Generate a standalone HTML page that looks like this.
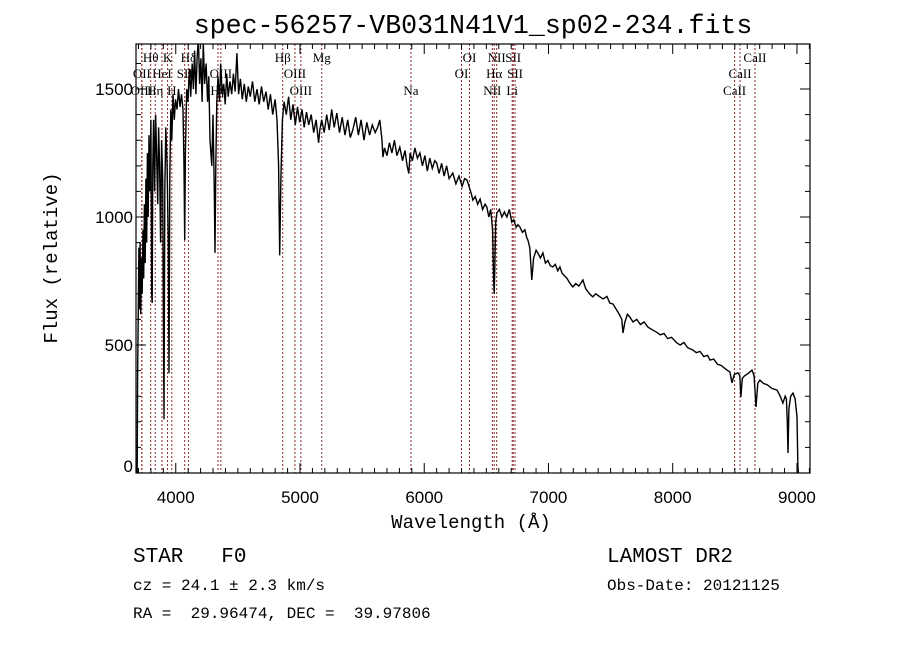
<!DOCTYPE html>
<html><head><meta charset="utf-8"><style>
html,body{margin:0;padding:0;background:#fff;}
svg{display:block;}
.mono{font-family:"Liberation Mono","DejaVu Sans Mono",monospace;}
.ser{font-family:"Liberation Serif","DejaVu Serif",serif;}
</style></head><body>
<svg id="chart" width="900" height="649" viewBox="0 0 900 649" xmlns="http://www.w3.org/2000/svg">
<rect width="900" height="649" fill="#fff"/>
<text x="473" y="33" text-anchor="middle" class="mono" font-size="26.6">spec-56257-VB031N41V1_sp02-234.fits</text>
<g id="lines"></g>
<g id="spec"></g>
<g id="axes"></g>
<text x="471" y="528" text-anchor="middle" class="mono" font-size="19">Wavelength (Å)</text>
<text transform="translate(57,258) rotate(-90)" text-anchor="middle" class="mono" font-size="19">Flux (relative)</text>
<text x="133" y="562" class="mono" font-size="21" xml:space="preserve">STAR   F0</text>
<text x="133" y="590" class="mono" font-size="16">cz = 24.1 ± 2.3 km/s</text>
<text x="133" y="618" class="mono" font-size="16" xml:space="preserve">RA =  29.96474, DEC =  39.97806</text>
<text x="607" y="562" class="mono" font-size="21">LAMOST DR2</text>
<text x="607" y="590" class="mono" font-size="16">Obs-Date: 20121125</text>
</svg>
<script>
const wave=[3690,3693,3698,3703,3708,3713,3718,3724,3730,3736,3742,3748,3754,3760,3766,3772,3778,3785,3792,3800,3806,3810,3815,3822,3830,3838,3846,3855,3862,3870,3878,3886,3895,3905,3912,3920,3930,3940,3946,3952,3960,3968,3978,3988,3998,4010,4022,4034,4046,4058,4066,4072,4078,4088,4098,4110,4120,4132,4142,4152,4162,4172,4182,4192,4202,4212,4222,4232,4244,4256,4266,4276,4290,4300,4310,4316,4322,4330,4340,4352,4362,4374,4386,4398,4410,4422,4436,4450,4464,4478,4492,4506,4520,4536,4552,4568,4584,4600,4618,4636,4654,4672,4690,4708,4726,4744,4762,4780,4800,4815,4828,4837,4846,4858,4872,4890,4908,4926,4944,4962,4980,4998,5016,5034,5052,5070,5090,5110,5130,5150,5159,5175,5195,5215,5235,5255,5275,5296,5318,5340,5362,5384,5405,5425,5448,5470,5492,5515,5538,5560,5582,5605,5625,5642,5660,5667,5680,5700,5720,5740,5760,5780,5803,5825,5845,5862,5876,5886,5905,5925,5945,5965,5985,6005,6025,6045,6065,6085,6100,6120,6140,6160,6180,6200,6230,6255,6280,6305,6325,6343,6360,6380,6391,6410,6430,6450,6470,6490,6504,6520,6535,6550,6558,6563,6568,6575,6585,6605,6625,6645,6665,6685,6705,6720,6740,6755,6770,6790,6810,6825,6834,6850,6866,6880,6900,6915,6935,6955,6975,6995,7015,7035,7055,7075,7092,7110,7130,7150,7172,7196,7220,7245,7277,7300,7330,7357,7380,7410,7440,7470,7494,7520,7545,7570,7590,7600,7615,7635,7655,7680,7710,7740,7770,7800,7841,7870,7900,7930,7960,7990,8034,8060,8090,8120,8163,8190,8220,8250,8280,8300,8330,8360,8390,8436,8460,8477,8495,8525,8540,8549,8560,8580,8610,8638,8655,8670,8685,8702,8730,8760,8800,8839,8865,8887,8905,8915,8922,8928,8935,8950,8968,8985,9000,9008,9012];
const flux=[0,380,600,880,640,900,620,840,700,950,760,1050,820,1150,900,1250,1000,1320,1100,1380,700,664,1200,1380,1100,1400,1250,1050,1350,1200,900,1300,1150,210,1100,1350,1200,900,390,1150,1420,1300,1480,1380,1460,1420,1500,1430,1480,1420,1200,910,1250,1500,1450,1580,1470,1600,1500,1650,1480,1620,1700,1520,1620,1450,1680,1520,1600,1450,1550,1300,1200,1400,1100,860,1200,1450,1550,1450,1600,1480,1520,1440,1560,1470,1530,1480,1560,1490,1640,1480,1540,1460,1520,1450,1510,1470,1530,1450,1500,1440,1510,1450,1490,1420,1480,1400,1460,1380,1200,850,1150,1380,1450,1400,1470,1380,1440,1360,1430,1370,1420,1350,1410,1360,1400,1330,1380,1290,1340,1380,1330,1400,1340,1420,1350,1406,1330,1390,1320,1380,1310,1340,1390,1320,1380,1300,1370,1320,1360,1330,1350,1379,1300,1234,1270,1240,1290,1250,1300,1240,1273,1220,1260,1200,1170,1250,1220,1270,1230,1250,1200,1240,1180,1230,1190,1220,1211,1170,1210,1160,1200,1150,1172,1130,1160,1120,1150,1145,1120,1090,1066,1080,1050,1070,1030,1050,1039,1000,1030,950,760,700,800,980,1016,1030,1000,1020,1000,1030,980,990,960,970,961,940,950,920,910,880,754,840,870,859,840,860,820,830,810,805,815,790,805,780,770,760,742,727,740,730,754,720,700,688,700,690,680,690,664,660,640,620,600,547,590,620,609,590,600,580,590,570,558,550,540,545,525,530,508,500,510,490,480,470,475,455,460,441,445,425,420,402,395,352,385,391,380,297,370,380,390,402,380,258,350,363,350,345,330,324,300,273,300,290,200,78,250,300,312,290,219,23,0];
const xTicks=[4000,5000,6000,7000,8000,9000];
const yTicks=[0,500,1000,1500];
const lineWaves=[3798,3934,4102,4861,5175,6364,6583,6716,8662,3727,3889,4072,4363,4959,6300,6563,6731,8542,3727,3835,3968,4340,5007,5893,6548,6708,8498];
const lineLabels=["Hθ","K","Hδ","Hβ","Mg","OI","NII","SII","CaII","OII","HeI","SII","OIII","OIII","OI","Hα","SII","CaII","OIII","Hη","H","Hγ","OIII","Na","NII","Li","CaII"];
const lineRows=[0,0,0,0,0,0,0,0,0,1,1,1,1,1,1,1,1,1,2,2,2,2,2,2,2,2,2];

const NS="http://www.w3.org/2000/svg";
const L=136,R=810,T=44,B=473;
const XMIN=3680,XMAX=9105,YMIN=0,YMAX=1676;
const xs=v=>L+(v-XMIN)/(XMAX-XMIN)*(R-L);
const ys=v=>B-(v-YMIN)/(YMAX-YMIN)*(B-T);
function mk(tag,attrs,parent){const e=document.createElementNS(NS,tag);for(const k in attrs)e.setAttribute(k,attrs[k]);parent.appendChild(e);return e;}

const svg=document.getElementById('chart');
const defs=mk('defs',{},svg);
const cp=mk('clipPath',{id:'pc'},defs);
mk('rect',{x:L,y:T,width:R-L,height:B-T},cp);

const gl=document.getElementById('lines');
const rowY=[62,78,95];
lineWaves.forEach((w,i)=>{
  const x=xs(w);
  const ln=mk('line',{x1:x,x2:x,y1:T,y2:B,stroke:'#8b2a2a','stroke-width':1,'stroke-dasharray':'2,2'},gl);
  
  
  const t=mk('text',{x:x,y:rowY[lineRows[i]],'text-anchor':'middle','font-size':13,'class':'ser'},gl);
  t.textContent=lineLabels[i];
  
  
});

const gs=document.getElementById('spec');
const pts=wave.map((w,i)=>xs(w).toFixed(1)+','+ys(flux[i]).toFixed(1)).join(' ');
const pl=mk('polyline',{points:pts,fill:'none',stroke:'#000','stroke-width':1.4,'clip-path':'url(#pc)'},gs);



const ga=document.getElementById('axes');
const fr=mk('rect',{x:L,y:T,width:R-L,height:B-T,fill:'none',stroke:'#000','stroke-width':1.2},ga);


let p='';
for(let v=3700;v<=XMAX;v+=100){const x=xs(v);const len=(v%1000===0)?10:5;p+=`M${x},${B}v${-len}M${x},${T}v${len}`;}
for(let v=0;v<=YMAX;v+=100){const y=ys(v);const len=(v%500===0)?10:5;p+=`M${L},${y}h${len}M${R},${y}h${-len}`;}
const tk=mk('path',{d:p,stroke:'#000','stroke-width':1,fill:'none'},ga);


xTicks.forEach(v=>{
  const t=mk('text',{x:xs(v),y:503,'text-anchor':'middle','font-size':17,'font-family':'Liberation Sans, sans-serif'},ga);
  t.textContent=String(v);
  
  
});
yTicks.forEach(v=>{
  const y=v===0?ys(v)-1:ys(v)+6;
  const t=mk('text',{x:L-3,y:y,'text-anchor':'end','font-size':17,'font-family':'Liberation Sans, sans-serif'},ga);
  t.textContent=String(v);
  
  
});
</script>
</body></html>
